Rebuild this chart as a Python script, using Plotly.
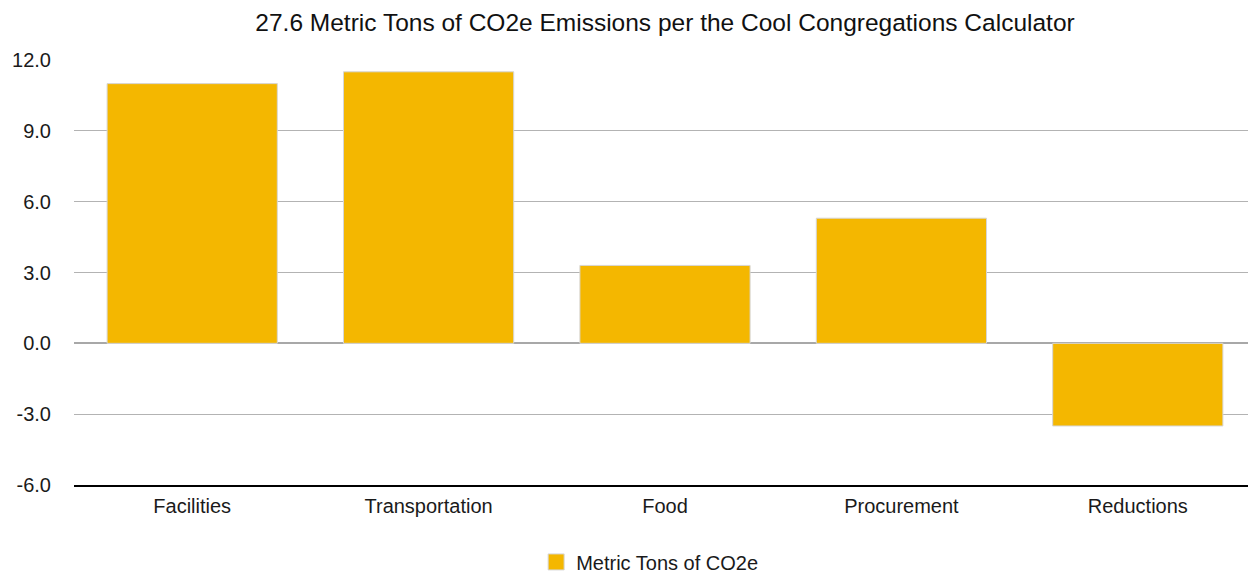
import plotly.graph_objects as go

categories = ["Facilities", "Transportation", "Food", "Procurement", "Reductions"]
values = [11.0, 11.5, 3.3, 5.3, -3.5]
series_name = "Metric Tons of CO2e"
title_text = "27.6 Metric Tons of CO2e Emissions per the Cool Congregations Calculator"
tick_vals = [-6, -3, 0, 3, 6, 9, 12]
tick_text = ["-6.0", "-3.0", "0.0", "3.0", "6.0", "9.0", "12.0"]

FONT = "Liberation Sans, Arial, Helvetica, sans-serif"
BAR = "#F4B700"

fig = go.Figure()
fig.add_trace(go.Bar(
    x=categories, y=values, name=series_name,
    marker=dict(color=BAR, line=dict(color="#d6d6d6", width=1)),
    showlegend=False,
))
fig.add_trace(go.Scatter(
    x=[None], y=[None], mode="markers", name=series_name,
    marker=dict(symbol="square", size=16, color=BAR, line=dict(color="#d6d6d6", width=1)),
    showlegend=True,
))

fig.update_layout(
    width=1248, height=567,
    paper_bgcolor="white", plot_bgcolor="white",
    margin=dict(l=66, r=0, t=52, b=90, autoexpand=False),
    bargap=0.28,
    title=dict(text=title_text, x=0.5, xref="paper", xanchor="center",
               y=0.975, yanchor="middle",
               font=dict(family=FONT, size=24.5, color="#111")),
    font=dict(family=FONT, size=20, color="#1a1a1a"),
    xaxis=dict(showline=True, linecolor="black", linewidth=2, ticks="",
               tickfont=dict(size=20, color="#1a1a1a"), showgrid=False,
               ticklabelstandoff=2, automargin=False),
    yaxis=dict(range=[-6, 12], tickvals=tick_vals, ticktext=tick_text,
               showgrid=True, gridcolor="#b3b3b3", gridwidth=1,
               zeroline=True, zerolinecolor="#a8a8a8", zerolinewidth=1.5,
               tickfont=dict(size=20, color="#1a1a1a"), ticklabelstandoff=22,
               automargin=False),
    legend=dict(orientation="h", x=0.487, xanchor="center", y=-0.181, yanchor="middle",
                font=dict(size=20, color="#1a1a1a")),
)

fig.write_html("out.html")
